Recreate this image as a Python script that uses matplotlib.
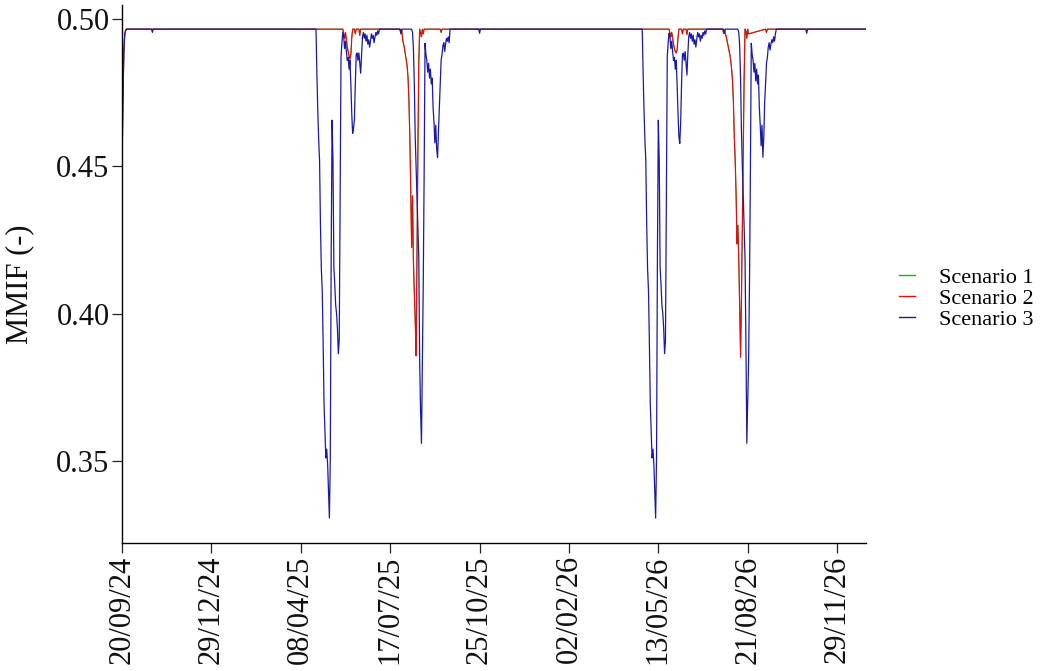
import matplotlib
matplotlib.use("Agg")
import matplotlib.pyplot as plt
import matplotlib.dates as mdates
import pandas as pd

plt.rcParams['font.family'] = ['Liberation Serif', 'DejaVu Serif']

# daily series as (day since start, MMIF) break points
start_date = "2024-09-20"
end_day = 832
baseline = 0.4966

s2_day = [0, 1, 2, 3, 4, 5,
          247, 249, 250, 252, 253, 254, 255, 256, 257, 258, 260, 261, 262, 265, 266, 267,
          311, 312, 313, 314, 315, 316, 317, 318, 319, 320, 321, 322, 323, 324, 325, 326,
          327, 328, 329, 330, 331, 332, 333, 335, 336, 337, 338, 356, 357, 358,
          612, 614, 615, 617, 618, 619, 620, 621, 622, 623, 626, 627, 628, 631, 632, 633,
          672, 673, 674, 675, 676, 677, 678, 679, 680, 681, 682, 683, 684, 685, 686, 687,
          688, 689, 690, 691, 692, 693, 694, 695, 696, 697, 698, 699, 700, 701, 720, 721, 722,
          end_day]
s2_val = [0.4497, 0.4725, 0.4880, 0.4946, 0.4960, 0.4966,
          0.4966, 0.4935, 0.4955, 0.4905, 0.4890, 0.4875, 0.4864, 0.4880, 0.4935, 0.4966, 0.4966, 0.4950, 0.4966, 0.4966, 0.4945, 0.4966,
          0.4966, 0.4950, 0.4962, 0.4930, 0.4915, 0.4900, 0.4880, 0.4860, 0.4840, 0.4800, 0.4720, 0.4600, 0.4420, 0.4225, 0.4400, 0.4180,
          0.4070, 0.3977, 0.3857, 0.4200, 0.4550, 0.4850, 0.4966, 0.4940, 0.4966, 0.4950, 0.4966, 0.4966, 0.4955, 0.4966,
          0.4966, 0.4940, 0.4955, 0.4915, 0.4900, 0.4890, 0.4885, 0.4895, 0.4935, 0.4966, 0.4966, 0.4950, 0.4966, 0.4966, 0.4948, 0.4966,
          0.4966, 0.4952, 0.4962, 0.4950, 0.4940, 0.4925, 0.4910, 0.4895, 0.4880, 0.4860, 0.4830, 0.4790, 0.4720, 0.4600, 0.4520, 0.4407,
          0.4237, 0.4300, 0.4180, 0.4030, 0.3852, 0.4050, 0.4300, 0.4550, 0.4800, 0.4966, 0.4960, 0.4935, 0.4966, 0.4950, 0.4966, 0.4955, 0.4966,
          0.4966]

# scenario 1 sits exactly under scenario 2 in the picture
s1_day = list(s2_day)
s1_val = list(s2_val)

s3_day = [0, 1, 2, 3, 4, 5, 33, 34, 35,
          217, 218, 219, 220, 221, 222, 223, 224, 225, 226, 227, 228, 229, 230, 231, 232,
          233, 234, 235, 236, 237, 238, 239, 240, 241, 242, 243, 244, 245, 246, 247, 248,
          249, 250, 251, 252, 253, 254, 255, 256, 257, 258, 259, 260, 261, 262, 263, 264,
          265, 266, 267, 268, 269, 270, 271, 272, 273, 274, 275, 276, 277, 278, 279, 280,
          281, 282, 283, 284, 285, 286, 287, 288,
          311, 312, 313, 324, 325, 326, 327, 328, 329, 330, 331, 332, 333, 334, 335, 336,
          337, 338, 339, 340, 341, 342, 343, 344, 345, 346, 347, 348, 349, 350, 351, 352,
          353, 354, 355, 356, 357, 358, 359, 360, 361, 362, 363, 364, 365, 366, 367,
          399, 400, 401,
          582, 583, 584, 585, 586, 587, 588, 589, 590, 591, 592, 593, 594, 595, 596, 597,
          598, 599, 600, 601, 602, 603, 604, 605, 606, 607, 608, 609, 610, 611, 612, 613,
          614, 615, 616, 617, 618, 619, 620, 621, 622, 623, 624, 625, 626, 627, 628, 629,
          630, 631, 632, 633, 634, 635, 636, 637, 638, 639, 640, 641, 642, 643, 644, 645,
          646, 647, 648, 649, 650, 651, 652, 653, 654,
          673, 674, 675, 689, 690, 691, 692, 693, 694, 695, 696, 697, 698, 699, 700, 701,
          702, 703, 704, 705, 706, 707, 708, 709, 710, 711, 712, 713, 714, 715, 716, 717,
          718, 719, 720, 721, 722, 723, 724, 725, 726, 727, 728, 729, 730, 731, 732,
          765, 766, 767,
          end_day]
s3_val = [0.4510, 0.4740, 0.4890, 0.4950, 0.4962, 0.4966, 0.4966, 0.4955, 0.4966,
          0.4966, 0.4816, 0.4690, 0.4590, 0.4520, 0.4300, 0.4150, 0.4079, 0.3900, 0.3694, 0.3600, 0.3510, 0.3540, 0.3490, 0.3400, 0.3306,
          0.3510, 0.4200, 0.4657, 0.4520, 0.4159, 0.4100, 0.4030, 0.4000, 0.3950, 0.3864, 0.3910, 0.4374, 0.4870, 0.4920, 0.4955, 0.4940,
          0.4900, 0.4925, 0.4890, 0.4860, 0.4870, 0.4830, 0.4860, 0.4780, 0.4680, 0.4612, 0.4630, 0.4660, 0.4780, 0.4880, 0.4885, 0.4860,
          0.4885, 0.4850, 0.4816, 0.4880, 0.4940, 0.4955, 0.4935, 0.4950, 0.4925, 0.4945, 0.4915, 0.4930, 0.4905, 0.4925, 0.4950, 0.4935,
          0.4945, 0.4920, 0.4940, 0.4955, 0.4945, 0.4960, 0.4950, 0.4966,
          0.4966, 0.4952, 0.4966, 0.4966, 0.4955, 0.4900, 0.4780, 0.4600, 0.4500, 0.4400, 0.4300, 0.4190, 0.3840, 0.3670, 0.3560, 0.3840,
          0.4100, 0.4476, 0.4918, 0.4880, 0.4860, 0.4820, 0.4850, 0.4800, 0.4830, 0.4780, 0.4800, 0.4700, 0.4650, 0.4580, 0.4640, 0.4560,
          0.4531, 0.4620, 0.4700, 0.4780, 0.4860, 0.4880, 0.4910, 0.4920, 0.4890, 0.4915, 0.4935, 0.4925, 0.4940, 0.4920, 0.4966,
          0.4966, 0.4952, 0.4966,
          0.4966, 0.4816, 0.4690, 0.4590, 0.4520, 0.4300, 0.4150, 0.4079, 0.3900, 0.3694, 0.3600, 0.3510, 0.3540, 0.3490, 0.3400, 0.3306,
          0.3510, 0.4200, 0.4657, 0.4520, 0.4159, 0.4100, 0.4030, 0.4000, 0.3950, 0.3864, 0.3910, 0.4374, 0.4870, 0.4920, 0.4952, 0.4940,
          0.4900, 0.4925, 0.4890, 0.4860, 0.4870, 0.4830, 0.4860, 0.4780, 0.4680, 0.4600, 0.4578, 0.4650, 0.4780, 0.4880, 0.4885, 0.4860,
          0.4890, 0.4850, 0.4810, 0.4880, 0.4940, 0.4955, 0.4935, 0.4950, 0.4925, 0.4945, 0.4915, 0.4930, 0.4905, 0.4930, 0.4955, 0.4940,
          0.4950, 0.4925, 0.4945, 0.4935, 0.4955, 0.4945, 0.4960, 0.4950, 0.4966,
          0.4966, 0.4952, 0.4966, 0.4966, 0.4955, 0.4910, 0.4800, 0.4620, 0.4500, 0.4400, 0.4300, 0.4190, 0.3900, 0.3560, 0.3700, 0.3840,
          0.4100, 0.4476, 0.4918, 0.4880, 0.4860, 0.4820, 0.4850, 0.4790, 0.4830, 0.4780, 0.4810, 0.4700, 0.4640, 0.4570, 0.4640, 0.4531,
          0.4600, 0.4720, 0.4780, 0.4850, 0.4870, 0.4905, 0.4920, 0.4895, 0.4915, 0.4930, 0.4920, 0.4940, 0.4925, 0.4950, 0.4966,
          0.4966, 0.4952, 0.4966,
          0.4966]

scenario_names = ["Scenario 1", "Scenario 2", "Scenario 3"]
tick_dates = ["2024-09-20", "2024-12-29", "2025-04-08", "2025-07-17", "2025-10-25",
              "2026-02-02", "2026-05-13", "2026-08-21", "2026-11-29"]


def to_dates(days):
    return pd.Timestamp(start_date) + pd.to_timedelta(days, unit="D")


fig = plt.figure(figsize=(10.43, 6.71), dpi=100)
ax = fig.add_axes([0.117, 0.191, 0.713, 0.802])

colors = ["#00c400", "#e01010", "#1a1aa8"]
widths = [0.6, 0.9, 0.9]  # green stays hidden under the red line
for days, vals, name, col, w in zip([s1_day, s2_day, s3_day], [s1_val, s2_val, s3_val],
                                    scenario_names, colors, widths):
    ax.plot(to_dates(days), vals, color=col, lw=w, label=name)

ax.set_xlim(pd.Timestamp(start_date), to_dates([end_day])[0])
ax.set_ylim(0.3222, 0.5049)
ax.set_yticks([0.35, 0.40, 0.45, 0.50])
ax.yaxis.set_major_formatter(matplotlib.ticker.FormatStrFormatter('%.2f'))
ax.set_xticks(pd.to_datetime(tick_dates))
ax.xaxis.set_major_formatter(mdates.DateFormatter('%d/%m/%y'))
plt.setp(ax.get_xticklabels(), rotation=90)

for s in ["top", "right"]:
    ax.spines[s].set_visible(False)
for s in ["left", "bottom"]:
    ax.spines[s].set_linewidth(1.0)
ax.tick_params(direction="out", length=7, width=0.9, labelsize=22, pad=2, colors="#222222",
               labelcolor="#111111")

ax.set_ylabel("MMIF (-)", fontsize=22, color="#111111")
ax.yaxis.set_label_coords(-0.118, 0.48)

leg = fig.legend(loc="center left", bbox_to_anchor=(0.851, 0.555), frameon=False,
                 fontsize=16, handlelength=0.75, handletextpad=1.05, labelspacing=0.02,
                 borderpad=0)
for h in leg.get_lines():
    h.set_linewidth(1.0)

fig.savefig("out.png", dpi=100)
